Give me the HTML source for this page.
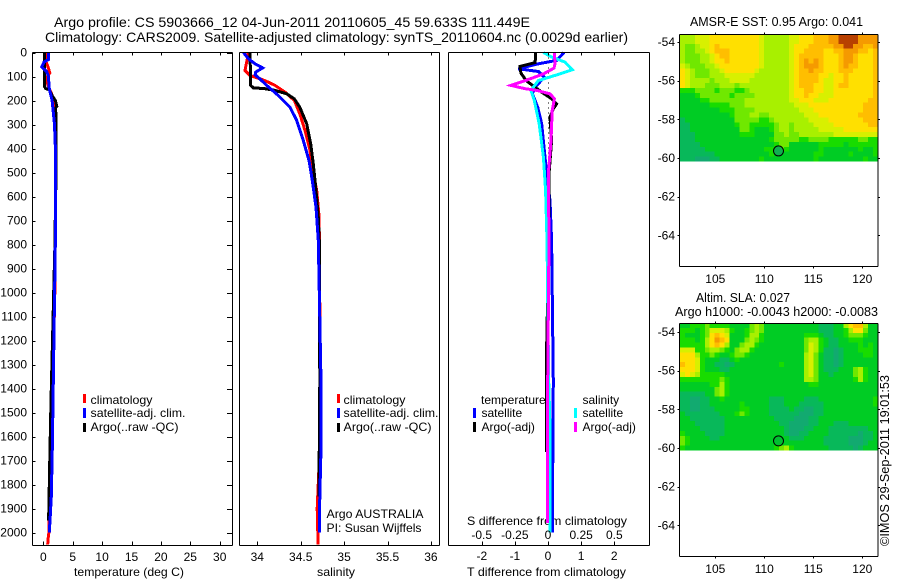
<!DOCTYPE html>
<html lang="en">
<head>
<meta charset="utf-8">
<title>Argo profile</title>
<style>
html,body{margin:0;padding:0;background:#fff;}
svg{display:block;font-family:"Liberation Sans",Arial,sans-serif;fill:#000;}
text{font-size:12px;fill:#000;}
</style>
</head>
<body>
<svg id="chart" width="900" height="580" viewBox="0 0 900 580" xmlns="http://www.w3.org/2000/svg">
  <text x="54" y="27" style="font-size:14px" textLength="476" lengthAdjust="spacingAndGlyphs">Argo profile: CS 5903666_12 04-Jun-2011 20110605_45 59.633S 111.449E</text>
  <text x="45" y="42" style="font-size:14px" textLength="583" lengthAdjust="spacingAndGlyphs">Climatology: CARS2009. Satellite-adjusted climatology: synTS_20110604.nc (0.0029d earlier)</text>
  <text x="74" y="576" textLength="110" lengthAdjust="spacingAndGlyphs">temperature (deg C)</text>
  <text x="317" y="576" textLength="38" lengthAdjust="spacingAndGlyphs">salinity</text>
  <text x="467" y="576" textLength="159" lengthAdjust="spacingAndGlyphs">T difference from climatology</text>
  <text x="467" y="525" textLength="160" lengthAdjust="spacingAndGlyphs">S difference from climatology</text>

  <g>
    <rect x="83" y="394" width="3" height="9" fill="#f00"/>
    <text x="90.5" y="404" textLength="62" lengthAdjust="spacingAndGlyphs">climatology</text>
    <rect x="83" y="408" width="3" height="10" fill="#00f"/>
    <text x="90.5" y="417" textLength="95" lengthAdjust="spacingAndGlyphs">satellite-adj. clim.</text>
    <rect x="83" y="423" width="3" height="9" fill="#000"/>
    <text x="90.5" y="431" textLength="88" lengthAdjust="spacingAndGlyphs">Argo(..raw -QC)</text>
  </g>
  <g>
    <rect x="337" y="394" width="3" height="9" fill="#f00"/>
    <text x="343.5" y="404" textLength="62" lengthAdjust="spacingAndGlyphs">climatology</text>
    <rect x="337" y="408" width="3" height="10" fill="#00f"/>
    <text x="343.5" y="417" textLength="95" lengthAdjust="spacingAndGlyphs">satellite-adj. clim.</text>
    <rect x="337" y="423" width="3" height="9" fill="#000"/>
    <text x="343.5" y="431" textLength="88" lengthAdjust="spacingAndGlyphs">Argo(..raw -QC)</text>
    <text x="326.5" y="518" textLength="97" lengthAdjust="spacingAndGlyphs">Argo AUSTRALIA</text>
    <text x="326.5" y="532" textLength="95" lengthAdjust="spacingAndGlyphs">PI: Susan Wijffels</text>
  </g>

  <text x="690" y="26" style="font-size:13px" textLength="173" lengthAdjust="spacingAndGlyphs">AMSR-E SST: 0.95 Argo: 0.041</text>
  <text x="696" y="302" style="font-size:13px" textLength="94" lengthAdjust="spacingAndGlyphs">Altim. SLA: 0.027</text>
  <text x="675" y="316" style="font-size:13px" textLength="203" lengthAdjust="spacingAndGlyphs">Argo h1000: -0.0043 h2000: -0.0083</text>
  <text transform="translate(889,546) rotate(-90)" style="font-size:13px" textLength="171" lengthAdjust="spacingAndGlyphs">©IMOS 29-Sep-2011 19:01:53</text>
</svg>

<script>
// Axis tick values
const depthTicks = [0,100,200,300,400,500,600,700,800,900,1000,1100,1200,1300,1400,1500,1600,1700,1800,1900,2000];
const temperatureTicks = [0,5,10,15,20,25,30];
const salinityTicks = [34,34.5,35,35.5,36];
const salinityTickLabels = ['34','34.5','35','35.5','36'];
const tDiffTicks = [-2,-1,0,1,2];
const sDiffTicks = [-0.5,-0.25,0,0.25,0.5];
const sDiffTickLabels = ['-0.5','-0.25','0','0.25','0.5'];
const latTicks = [-54,-56,-58,-60,-62,-64];
const lonTicks = [105,110,115,120];

// Temperature panel
const tempClimDepth = [0,40,60,85,100,120,150,170,200,240,300,500,1000,1400,1650,1850,1950,2000,2030,2050];
const tempClim = [0.45,0.5,0.8,1.1,0.7,0.6,1,1.4,1.8,1.85,2,2.1,1.95,1.6,1.45,1,0.95,0.95,0.8,0.75];
const tempArgoDepth = [0,140,150,155,180,200,225,230,300,500,600,800,1450,1650,1950];
const tempArgo = [0.17,0.17,0.4,1,1.5,2.05,2.3,2.1,2.2,2.2,2.1,1.97,1.31,1.14,0.9];
const tempSatDepth = [0,30,40,60,80,100,140,160,200,250,300,400,800,1400,1650,1850,1950,2000];
const tempSat = [0.85,0.85,0.12,-0.27,0.58,0.9,0.95,1.1,1.5,1.7,1.9,2.05,2.04,1.68,1.53,1.36,1.14,1.02];

// Salinity panel
const salClimDepth = [0,26,75,96,117,137,165,200,258,325,408,478,575,680,783,1370,1650,1900,2050];
const salClim = [33.897,33.885,33.858,33.916,34.089,34.204,34.319,34.427,34.492,34.55,34.607,34.634,34.684,34.711,34.715,34.725,34.72,34.69,34.7];
const salArgoDepth = [0,137,147,151,158,172,193,228,297,381,464,575,686,783,1370,1850];
const salArgo = [33.916,33.924,33.954,34.089,34.204,34.339,34.426,34.49,34.569,34.615,34.645,34.676,34.703,34.714,34.72,34.71];
const salSatDepth = [0,26,47,64,82,93,110,137,179,228,283,367,450,533,644,783,1370,1650,1850,2000];
const salSat = [33.84,33.897,33.974,34.062,33.98,33.975,34.03,34.108,34.242,34.377,34.454,34.53,34.596,34.634,34.676,34.703,34.734,34.734,34.72,34.714];

// Difference panel
const dTSatDepth = [0,33,47,68,79,103,144,172,228,297,394,506,617,783,1370,1560,2000];
const dTSat = [0.483,0.26,-0.29,-0.897,-0.29,-0.11,-0.39,-0.47,-0.31,-0.19,-0.12,-0.04,0.06,0.11,0.16,0.15,0.13];
const dTArgoDepth = [0,42,58,86,117,144,165,193,214,234,269,367,506,800,1300,1665];
const dTArgo = [-0.37,-0.39,-0.85,-0.82,-0.66,-0.4,-0.19,0.11,0.26,0.16,0.06,0.11,0.03,0.02,-0.05,-0.05];
const dSSatDepth = [0,19,40,72,89,117,158,200,297,436,575,783,1370,1560,2000];
const dSSat = [-0.035,0.028,0.128,0.183,0.09,-0.073,-0.128,-0.103,-0.066,-0.035,-0.018,-0.0075,0.005,0.015,0.015];
const dSArgoDepth = [0,47,65,89,110,137,151,158,172,193,242,367,506,783,1370,1960];
const dSArgo = [0.048,0.053,0.045,-0.035,-0.136,-0.279,-0.173,-0.085,0.015,0.048,0.032,0.023,0.002,0.0075,-0.002,-0.005];

// Argo float position
const argoLon = [111.449];
const argoLat = [-59.633];

// Map grids: colour level per cell, north to south, west to east
const sstGrid = [
[5,5,5,6,6,6,7,7,7,7,7,7,7,7,7,7,6,5,5,5,5,5,6,6,7,7,7,8,8,8,9,9,10,10,10,10,9,9,9,9],
[5,5,5,6,6,6,7,7,7,7,7,7,7,7,7,7,6,5,5,5,5,5,6,6,7,7,7,8,8,8,9,9,10,10,10,10,9,9,9,9],
[5,4,4,5,6,6,7,8,7,7,7,7,7,7,7,7,6,5,5,5,5,5,6,7,7,7,8,8,8,8,8,9,9,10,10,9,9,8,8,9],
[5,4,4,5,5,6,7,8,8,8,7,7,7,7,7,7,6,5,5,5,5,5,6,7,7,8,8,8,8,7,7,8,8,9,9,9,8,8,7,8],
[5,4,4,4,5,5,6,7,8,8,7,7,7,7,7,7,6,5,5,5,5,5,6,7,8,8,8,8,8,7,7,7,8,9,9,8,7,7,7,8],
[5,4,4,4,5,5,6,7,7,8,7,7,7,7,7,7,6,5,5,5,5,5,6,7,8,9,8,9,8,7,7,7,8,9,9,8,7,7,7,8],
[6,5,4,4,4,5,5,6,7,7,7,7,7,7,7,7,6,5,5,5,5,5,6,7,8,9,9,9,8,7,7,7,8,9,8,8,7,7,7,8],
[7,6,5,4,4,4,5,5,6,7,7,7,7,7,7,6,5,5,5,5,5,5,6,7,8,8,9,8,8,7,7,7,8,8,8,7,7,7,7,8],
[7,6,5,4,4,4,5,5,5,6,6,6,6,6,6,5,5,5,5,5,5,5,6,7,8,8,8,8,7,7,6,7,7,8,7,7,7,7,7,8],
[7,6,5,5,5,5,4,5,5,5,6,6,6,6,5,5,5,5,5,5,5,5,6,7,8,8,8,8,7,6,6,7,7,8,7,7,7,7,7,8],
[7,6,5,5,5,4,4,4,5,5,5,4,5,5,5,5,5,5,5,5,5,5,6,7,8,8,8,7,7,6,6,7,8,8,7,7,7,7,7,8],
[3,3,3,4,4,4,4,3,4,4,4,3,3,4,5,5,5,5,5,5,5,5,6,7,7,8,8,7,7,6,6,7,7,7,7,7,7,7,7,8],
[2,2,2,3,4,4,4,4,4,4,3,4,4,4,4,5,5,5,5,5,5,5,6,7,7,8,7,7,6,6,6,7,7,7,7,7,7,7,7,8],
[2,2,2,2,3,3,4,4,4,4,4,4,4,5,5,5,5,5,5,5,5,5,6,6,7,7,7,6,6,6,7,7,7,7,7,7,7,7,8,8],
[2,2,2,2,2,2,3,3,3,3,4,4,4,5,5,5,5,5,5,5,5,5,5,6,6,6,7,7,7,7,7,7,7,7,7,7,7,8,8,8],
[2,2,2,2,2,2,2,2,3,3,3,4,4,4,4,5,5,5,5,5,5,5,5,5,6,6,6,7,7,7,7,7,7,7,7,7,7,8,8,8],
[2,2,2,2,2,2,2,2,2,2,3,4,4,4,5,5,4,4,5,5,5,5,5,5,5,6,6,6,7,7,7,7,7,7,7,7,8,8,8,8],
[1,2,2,2,2,2,2,2,2,2,2,4,4,4,4,4,3,3,4,5,5,5,5,5,5,5,6,6,6,6,7,7,7,7,7,7,7,8,8,8],
[1,1,2,2,2,2,2,2,2,2,2,3,4,4,3,3,3,3,3,4,5,5,4,5,5,5,5,6,6,6,6,7,7,7,7,7,7,7,8,8],
[1,1,2,2,2,2,2,2,2,2,2,2,4,4,3,2,2,2,3,4,5,5,4,5,5,5,5,5,6,6,6,6,6,7,7,7,7,7,7,7],
[1,1,1,2,2,2,2,2,2,2,2,2,3,3,3,2,2,2,2,4,4,5,4,4,5,5,5,5,5,5,5,6,6,6,6,6,6,6,6,6],
[1,1,1,2,2,2,2,2,2,2,2,2,2,2,2,2,2,2,3,4,4,4,4,4,3,3,4,4,4,4,3,3,3,3,3,3,4,4,3,3],
[1,1,1,1,2,2,2,2,2,2,2,2,2,2,2,2,2,2,2,3,4,4,2,2,2,2,2,2,3,3,3,3,3,2,3,3,3,3,3,3],
[1,1,1,1,1,2,2,2,2,2,2,2,2,2,2,2,2,3,3,3,4,3,2,2,2,2,2,2,3,2,2,2,2,2,2,2,3,2,2,3],
[1,1,1,1,1,1,1,2,2,2,2,2,2,2,2,2,2,2,3,2,2,2,2,2,2,2,2,3,3,2,2,2,2,2,3,2,2,2,2,3],
[1,1,1,0,0,0,1,1,2,2,2,2,2,2,2,2,3,2,2,2,2,2,2,2,2,2,2,3,2,2,2,2,2,2,2,2,2,3,2,2]
];
const slaGrid = [
[2,2,3,3,3,4,3,3,3,3,2,2,2,2,4,5,4,2,2,2,2,2,2,2,2,2,2,2,1,1,1,2,2,5,7,8,8,5,2,2],
[3,3,3,2,3,4,6,6,6,5,3,2,2,3,4,5,4,2,2,2,2,2,2,2,2,2,2,2,1,1,1,2,2,3,5,7,7,4,2,2],
[3,2,2,2,3,4,7,8,7,6,2,2,2,3,5,5,3,2,2,2,2,2,2,2,2,3,3,3,2,1,1,2,2,3,4,4,4,3,2,2],
[3,3,3,2,3,5,7,9,8,7,2,2,2,4,5,4,3,2,2,2,2,2,2,2,2,4,5,5,3,2,1,1,2,2,3,3,3,2,2,2],
[3,3,3,3,3,5,7,8,7,5,2,2,4,5,5,3,2,2,2,2,2,2,2,2,2,4,6,5,3,2,1,1,2,2,2,2,3,2,3,2],
[6,6,6,3,3,4,5,5,4,3,2,4,5,5,3,2,2,2,2,2,2,2,2,2,2,4,6,5,3,1,1,0,1,2,2,2,3,3,3,2],
[7,7,7,5,3,3,4,3,2,2,3,4,4,3,2,2,2,2,2,2,2,2,2,2,2,5,6,4,2,1,1,0,1,2,2,2,2,3,3,2],
[7,7,7,6,3,2,2,2,1,1,2,3,2,2,2,2,2,2,2,2,2,2,2,2,2,5,6,4,2,1,1,0,1,2,2,2,2,2,2,2],
[8,7,7,6,3,2,2,1,1,0,1,2,2,2,2,2,2,2,2,2,3,2,2,2,2,5,6,4,2,1,1,0,1,2,2,2,2,2,2,2],
[7,7,7,6,3,2,2,2,1,1,2,2,2,2,2,2,2,2,2,2,2,2,2,2,2,5,6,4,2,1,1,1,2,2,2,4,5,3,2,2],
[6,7,6,5,3,3,3,3,3,2,2,2,2,2,2,2,2,2,2,2,2,2,2,2,2,5,6,4,2,2,1,2,2,2,2,4,5,3,2,2],
[3,3,3,3,3,3,3,3,4,3,2,2,2,2,2,2,2,2,2,2,2,2,2,2,2,5,5,4,2,2,2,2,2,2,2,3,5,3,2,2],
[2,2,2,2,2,2,3,3,5,3,2,2,2,2,2,2,2,2,2,2,2,2,2,2,2,2,3,3,2,2,2,2,2,2,2,2,2,2,2,2],
[2,2,2,2,2,2,2,4,5,3,2,2,2,2,2,2,2,2,2,2,2,2,2,2,2,2,2,2,2,2,2,2,2,2,2,2,2,2,2,2],
[1,1,1,1,1,2,2,4,5,3,2,2,2,2,2,2,2,2,2,2,2,2,2,2,2,2,2,2,2,2,2,2,2,2,2,2,2,2,2,2],
[1,1,0,0,1,1,2,2,3,2,2,2,2,2,2,2,2,2,1,1,1,2,2,2,2,1,1,1,2,2,2,2,2,2,2,2,2,2,2,3],
[1,1,0,0,1,1,2,2,2,2,2,2,3,2,2,2,2,2,1,1,1,2,2,2,1,1,1,1,1,2,2,2,2,2,2,2,2,2,2,3],
[1,1,0,0,1,1,1,2,2,2,2,2,3,3,2,2,2,2,1,1,1,1,2,1,1,0,0,1,1,2,2,2,2,2,2,2,2,2,2,2],
[2,1,1,1,1,1,1,1,2,2,2,3,4,3,2,2,2,2,1,1,1,1,1,1,0,0,0,1,1,2,2,2,2,2,2,2,2,2,2,2],
[2,2,1,1,1,1,1,1,1,2,2,2,2,2,2,2,2,2,2,1,1,1,1,0,0,0,1,1,2,2,2,2,2,2,2,2,2,2,2,2],
[2,2,2,1,1,1,1,1,1,2,2,2,2,2,2,2,2,2,2,2,1,1,0,0,0,0,1,1,2,2,2,1,1,1,2,2,2,2,2,2],
[2,2,2,2,1,1,1,1,1,2,2,2,2,2,2,2,2,2,2,2,2,1,0,0,0,1,1,2,2,2,1,1,1,1,1,1,1,1,2,2],
[3,2,2,2,2,1,1,1,1,2,2,2,2,2,2,2,2,2,2,2,2,1,0,0,1,1,2,2,2,2,1,1,1,1,1,1,0,1,1,2],
[4,3,2,2,2,2,1,1,2,2,2,2,2,2,2,2,2,2,2,2,2,2,1,1,1,2,2,2,2,1,1,1,1,1,0,0,0,1,1,2],
[4,3,2,2,2,2,2,2,2,2,2,2,2,2,2,2,2,2,2,2,2,2,2,2,2,2,2,2,2,1,1,1,1,1,0,0,0,1,2,2],
[3,2,2,2,2,2,2,2,2,2,2,2,2,2,2,2,2,2,2,3,4,5,3,2,2,2,2,2,2,2,1,1,1,1,1,0,1,2,2,2]
];

const svg = document.getElementById('chart');
const NS = 'http://www.w3.org/2000/svg';

function make(tag, parent, name) {
  const el = document.createElementNS(NS, tag);
  
  
  parent.appendChild(el);
  return el;
}
function seg(parent, name, x1, y1, x2, y2) {
  const l = make('line', parent, name);
  l.setAttribute('x1', x1); l.setAttribute('y1', y1);
  l.setAttribute('x2', x2); l.setAttribute('y2', y2);
  l.setAttribute('stroke', '#000');
  l.setAttribute('stroke-width', '1');
  l.setAttribute('shape-rendering', 'crispEdges');
  return l;
}
function label(parent, name, x, y, str, anchor) {
  const t = make('text', parent, name);
  t.setAttribute('x', x); t.setAttribute('y', y);
  t.setAttribute('text-anchor', anchor);
  t.textContent = str;
  return t;
}

// Depth axis shared by the profile panels
const panelTop = 52.5, depthPx = 0.24, panelBottom = 545.5;
const yDepth = d => panelTop + d * depthPx;
// Horizontal axes
const xTemp = v => 43.3 + v * 5.88;
const xSal = v => 257.3 + (v - 34) * 86.8;
const xDT = v => 548 + v * 33.1;
const xDS = v => 548 + v * 132.6;

function profile(parent, name, depths, values, xf, color) {
  const p = make('polyline', parent, name);
  p.setAttribute('points', values.map((v, i) => xf(v).toFixed(1) + ',' + yDepth(depths[i]).toFixed(1)).join(' '));
  p.setAttribute('fill', 'none');
  p.setAttribute('stroke', color);
  p.setAttribute('stroke-width', '3');
  p.setAttribute('shape-rendering', 'crispEdges');
}
function frame(parent, x0, x1, y0, y1) {
  seg(parent, 'axis-top', x0, y0, x1, y0);
  seg(parent, 'axis-bottom', x0, y1, x1, y1);
  seg(parent, 'axis-left', x0, y0, x0, y1);
  seg(parent, 'axis-right', x1, y0, x1, y1);
}

// Panel 1: temperature
const g1 = make('g', svg, 'temperature-panel');
profile(g1, 'temperature-climatology-line', tempClimDepth, tempClim, xTemp, '#f00');
profile(g1, 'temperature-argo-line', tempArgoDepth, tempArgo, xTemp, '#000');
profile(g1, 'temperature-satellite-line', tempSatDepth, tempSat, xTemp, '#00f');
frame(g1, 32.5, 232.5, panelTop, panelBottom);
depthTicks.forEach(d => {
  const y = Math.round(yDepth(d)) + 0.5;
  seg(g1, 'depth-tick-left', 32.5, y, 35.5, y);
  seg(g1, 'depth-tick-right', 227, y, 232.5, y);
  label(g1, 'depth-tick-label', 27, yDepth(d) + 4, String(d), 'end');
});
temperatureTicks.forEach(v => {
  const x = Math.round(xTemp(v)) + 0.5;
  seg(g1, 'temperature-tick-top', x, panelTop, x, panelTop + 3);
  seg(g1, 'temperature-tick-bottom', x, panelBottom - 4, x, panelBottom);
  label(g1, 'temperature-tick-label', xTemp(v), 561, String(v), 'middle');
});

// Panel 2: salinity
const g2 = make('g', svg, 'salinity-panel');
profile(g2, 'salinity-climatology-line', salClimDepth, salClim, xSal, '#f00');
profile(g2, 'salinity-argo-line', salArgoDepth, salArgo, xSal, '#000');
profile(g2, 'salinity-satellite-line', salSatDepth, salSat, xSal, '#00f');
frame(g2, 239.5, 439.5, panelTop, panelBottom);
salinityTicks.forEach((v, i) => {
  const x = Math.round(xSal(v)) + 0.5;
  seg(g2, 'salinity-tick-top', x, panelTop, x, panelTop + 3);
  seg(g2, 'salinity-tick-bottom', x, panelBottom - 4, x, panelBottom);
  label(g2, 'salinity-tick-label', xSal(v), 561, salinityTickLabels[i], 'middle');
});

// Panel 3: differences
const g3 = make('g', svg, 'difference-panel');
const zero = seg(g3, 'zero-difference-line', 548.5, yDepth(0), 548.5, yDepth(700));
zero.setAttribute('stroke-dasharray', '1 4');
profile(g3, 'temperature-difference-satellite-line', dTSatDepth, dTSat, xDT, '#00f');
profile(g3, 'temperature-difference-argo-line', dTArgoDepth, dTArgo, xDT, '#000');
profile(g3, 'salinity-difference-satellite-line', dSSatDepth, dSSat, xDS, '#0ff');
profile(g3, 'salinity-difference-argo-line', dSArgoDepth, dSArgo, xDS, '#f0f');
frame(g3, 448.5, 649.5, panelTop, panelBottom);
tDiffTicks.forEach(v => {
  const x = Math.round(xDT(v)) + 0.5;
  seg(g3, 'difference-tick-top', x, panelTop, x, panelTop + 3);
  seg(g3, 'difference-tick-bottom', x, panelBottom - 4, x, panelBottom);
  label(g3, 't-difference-tick-label', xDT(v), 560, String(v), 'middle');
});
sDiffTicks.forEach((v, i) => {
  label(g3, 's-difference-tick-label', xDS(v), 539, sDiffTickLabels[i], 'middle');
});

// Difference legend
const legendItems = [
  ['temperature', 481, 404, null, 0],
  ['satellite', 481.5, 417, '#00f', 473],
  ['Argo(-adj)', 481.5, 431, '#000', 473],
  ['salinity', 582.5, 404, null, 0],
  ['satellite', 582.5, 417, '#0ff', 574],
  ['Argo(-adj)', 582.5, 431, '#f0f', 574]
];
const lg = make('g', svg, 'difference-legend');
legendItems.forEach(item => {
  label(lg, 'legend-label', item[1], item[2], item[0], 'start');
  if (item[3]) {
    const r = make('rect', lg, 'legend-swatch');
    r.setAttribute('x', item[4]);
    r.setAttribute('y', item[2] - 9);
    r.setAttribute('width', 3);
    r.setAttribute('height', 10);
    r.setAttribute('fill', item[3]);
  }
});

// Maps
const levelColors = ['#12aa70','#08b85a','#00cc24','#18dc00','#70e800','#a8f000','#d8f000','#ffe000','#ffbe00','#f59a00','#b84000'];
const xLon = v => 715.3 + (v - 105) * 9.8;

function drawMap(name, grid, top, bottom, northLat, circleFill) {
  const yLat = v => top + (northLat - v) * 19.35;
  const g = make('g', svg, name);
  const lonStep = 20.2 / grid[0].length, latStep = 0.2535;
  grid.forEach((row, j) => {
    row.forEach((level, i) => {
      const west = 101.4 + i * lonStep;
      const north = northLat - j * latStep;
      const x0 = xLon(west), x1 = xLon(west + lonStep);
      const y0 = yLat(north), y1 = yLat(north - latStep);
      const c = make('rect', g, 'map-cell');
      c.setAttribute('x', x0.toFixed(2));
      c.setAttribute('y', y0.toFixed(2));
      c.setAttribute('width', (x1 - x0).toFixed(2));
      c.setAttribute('height', (y1 - y0).toFixed(2));
      c.setAttribute('fill', levelColors[level]);
      c.setAttribute('shape-rendering', 'crispEdges');
    });
  });
  const dot = make('circle', g, 'argo-position-marker');
  dot.setAttribute('cx', xLon(argoLon[0]));
  dot.setAttribute('cy', yLat(argoLat[0]));
  dot.setAttribute('r', 5);
  dot.setAttribute('fill', circleFill);
  dot.setAttribute('stroke', '#000');
  dot.setAttribute('stroke-width', '1');
  frame(g, 679.5, 878, top + 0.5, bottom + 0.5);
  latTicks.forEach(v => {
    const y = Math.round(yLat(v)) + 0.5;
    seg(g, 'latitude-tick-left', 677.5, y, 679.5, y);
    seg(g, 'latitude-tick-right', 878, y, 880, y);
    label(g, 'latitude-tick-label', 675, yLat(v) + 4, String(v), 'end');
  });
  lonTicks.forEach(v => {
    const x = Math.round(xLon(v)) + 0.5;
    seg(g, 'longitude-tick-top', x, top - 1.5, x, top + 0.5);
    seg(g, 'longitude-tick-bottom', x, bottom + 0.5, x, bottom + 2.5);
    label(g, 'longitude-tick-label', xLon(v), bottom + 17, String(v), 'middle');
  });
}
drawMap('sst-map', sstGrid, 34, 266, -53.59, '#10b050');
drawMap('sla-map', slaGrid, 323, 556, -53.54, '#00c030');
</script>
</body>
</html>
